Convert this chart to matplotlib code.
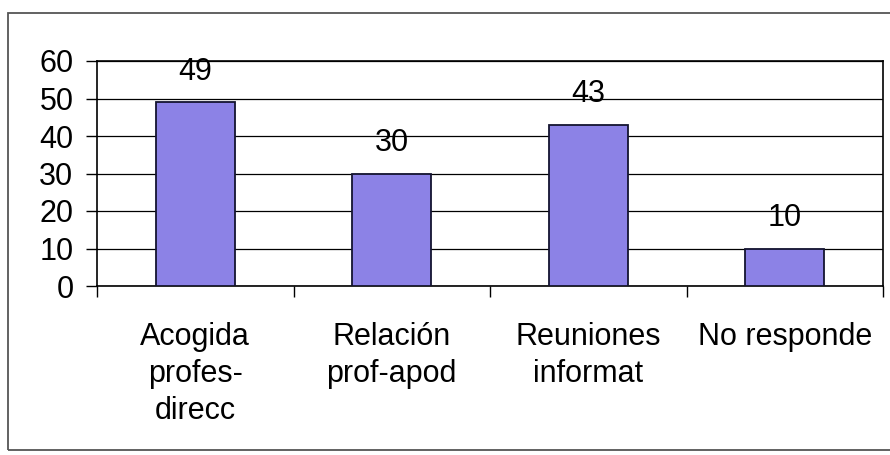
import matplotlib
matplotlib.use("Agg")
import matplotlib.pyplot as plt
from matplotlib.patches import Rectangle
import numpy as np

categorias = ["Acogida\nprofes-\ndirecc", "Relación\nprof-apod",
              "Reuniones\ninformat", "No responde"]
valores = [49, 30, 43, 10]
yticks = [0, 10, 20, 30, 40, 50, 60]

plt.rcParams["font.family"] = ["Liberation Sans", "DejaVu Sans"]
plt.rcParams["font.size"] = 22

fig = plt.figure(figsize=(8.9, 4.55), dpi=100)
ax = fig.add_axes([97 / 890, 1 - 286 / 455, (883 - 97) / 890, (286 - 61) / 455])

# marco exterior del grafico
fig.patches.append(Rectangle((8 / 890, 5 / 455), 1.1, 1 - 18 / 455,
                             transform=fig.transFigure, fill=False,
                             edgecolor="#555555", linewidth=1.3))

x = np.arange(len(valores))
ax.bar(x, valores, width=0.4, color="#8c82e6", edgecolor="#141430",
       linewidth=1.3, zorder=3)

for xi, v in zip(x, valores):
    ax.annotate(str(v), (xi, v), xytext=(0, 22), textcoords="offset points",
                ha="center", va="center", zorder=4)

ax.set_xlim(-0.5, len(valores) - 0.5)
ax.set_ylim(0, 60)
ax.set_yticks(yticks)
ax.yaxis.grid(True, color="black", linewidth=0.9, zorder=0)
ax.tick_params(axis="y", length=8, width=1, pad=9, direction="out")

ax.set_xticks(x)
ax.set_xticklabels(categorias, linespacing=1.3)
ax.tick_params(axis="x", which="major", length=0, pad=26)
ax.set_xticks(np.arange(-0.5, len(valores)), minor=True)
ax.tick_params(axis="x", which="minor", length=8, width=1, direction="out")

for s in ax.spines.values():
    s.set_color("black")
    s.set_linewidth(1.2)

fig.savefig("out.png", dpi=100)
